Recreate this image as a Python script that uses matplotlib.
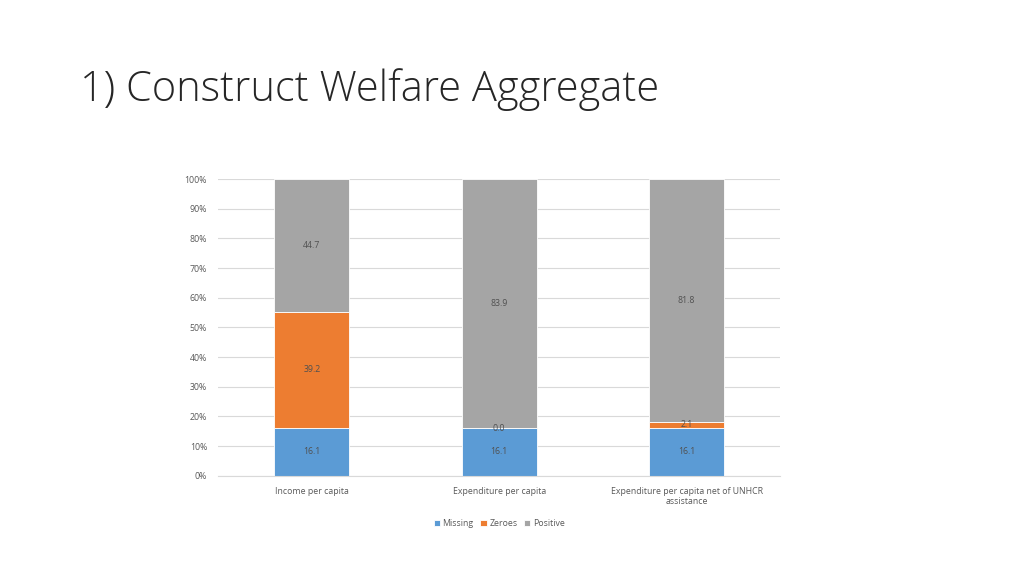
import numpy as np
from matplotlib import pyplot as plt

categories = ['Income per capita', 'Expenditure per capita',
              'Expenditure per capita net of UNHCR\nassistance']
missing = [16.1, 16.1, 16.1]
zeroes = [39.2, 0.0, 2.1]
positive = [44.7, 83.9, 81.8]
series = [('Missing', missing, '#5B9BD5'),
          ('Zeroes', zeroes, '#ED7D31'),
          ('Positive', positive, '#A5A5A5')]

plt.rcParams['font.family'] = ['Open Sans', 'DejaVu Sans']

fig = plt.figure(figsize=(10.24, 5.76), dpi=100)
fig.text(0.078, 0.825, '1) Construct Welfare Aggregate', fontsize=30,
         color='#262626', fontweight='light')

ax = fig.add_axes([0.213, 0.174, 0.549, 0.515])
x = np.arange(len(categories))
bottom = np.zeros(len(categories))
for name, vals, col in series:
    vals = np.array(vals)
    ax.bar(x, vals, 0.4, bottom=bottom, color=col, label=name,
           edgecolor='white', linewidth=0.6, zorder=2)
    for xi, b, v in zip(x, bottom, vals):
        ax.text(xi, b + v / 2, f'{v:.1f}', ha='center', va='center',
                fontsize=6.3, color='#505050', zorder=3)
    bottom += vals

ax.set_xlim(-0.5, 2.5)
ax.set_ylim(0, 100)
ax.set_yticks(range(0, 101, 10))
ax.set_yticklabels([f'{v}%' for v in range(0, 101, 10)])
ax.set_xticks(x)
ax.set_xticklabels(categories)
ax.grid(axis='y', color='#D9D9D9', linewidth=0.8, zorder=0)
ax.tick_params(length=0, labelsize=6.3, labelcolor='#595959', pad=8)
for s in ['top', 'right', 'left']:
    ax.spines[s].set_visible(False)
ax.spines['bottom'].set_color('#D9D9D9')

ax.legend(loc='upper center', bbox_to_anchor=(0.5, -0.12), ncol=3,
          frameon=False, fontsize=6.3, labelcolor='#595959',
          handlelength=0.7, handleheight=0.7, handletextpad=0.3,
          columnspacing=0.8)

plt.savefig('out.png', dpi=100)
